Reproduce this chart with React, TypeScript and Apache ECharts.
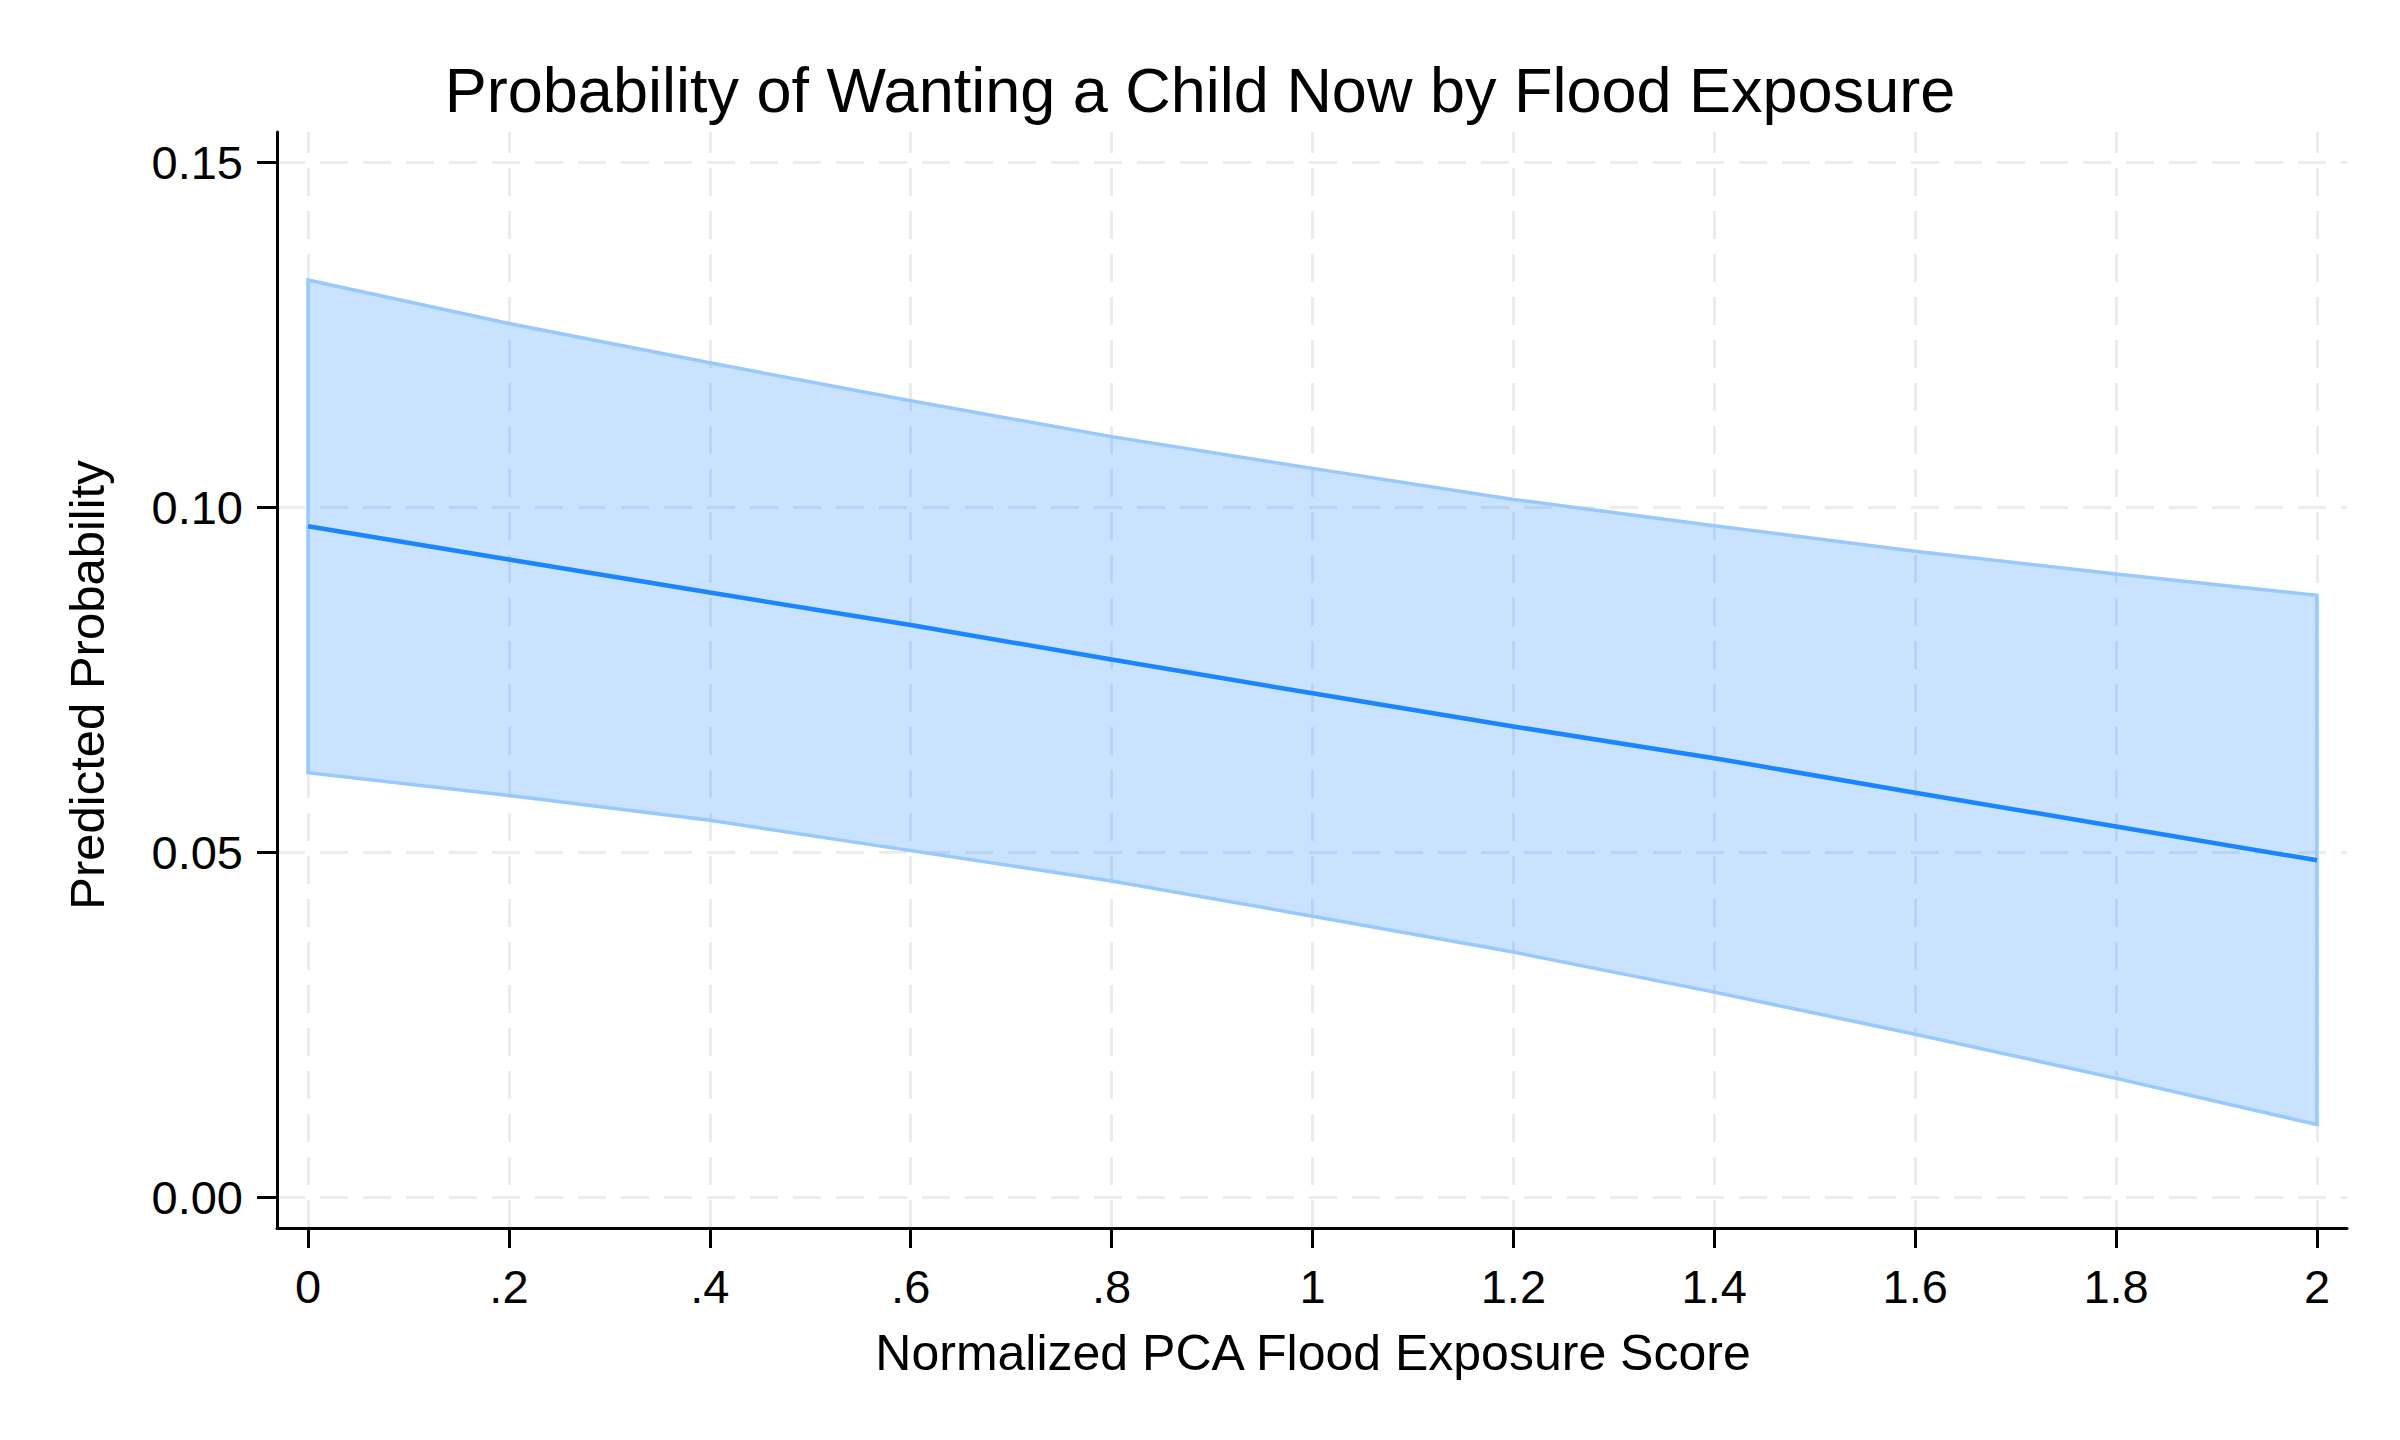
import React, { useEffect, useRef } from "react";
import * as echarts from "echarts";

// ---- data ----
const xValues = [0, 0.2, 0.4, 0.6, 0.8, 1.0, 1.2, 1.4, 1.6, 1.8, 2.0];
const predicted = [0.0972, 0.0924, 0.0876, 0.0829, 0.0779, 0.073, 0.0682, 0.0636, 0.0586, 0.0537, 0.0488];
const upperCI = [0.1329, 0.1266, 0.1209, 0.1154, 0.1102, 0.1056, 0.1011, 0.0973, 0.0936, 0.0903, 0.0872];
const lowerCI = [0.0615, 0.0582, 0.0546, 0.0502, 0.0458, 0.0407, 0.0355, 0.0297, 0.0236, 0.0172, 0.0105];
const xTicks = [0, 0.2, 0.4, 0.6, 0.8, 1.0, 1.2, 1.4, 1.6, 1.8, 2.0];
const yTicks = [0, 0.05, 0.1, 0.15];

const TITLE = "Probability of Wanting a Child Now by Flood Exposure";
const X_TITLE = "Normalized PCA Flood Exposure Score";
const Y_TITLE = "Predicted Probability";

const FONT = '"Liberation Sans", Arial, Helvetica, sans-serif';
const LINE_COLOR = "#1a85ff";
const BAND_FILL = "rgba(26,133,255,0.24)";
const BAND_EDGE = "#98c8fe";
const GRID_COLOR = "#ececec";

function fmtX(v: number): string {
  const s = String(Math.round(v * 10) / 10);
  return s.startsWith("0.") ? s.slice(1) : s;
}

export default function App() {
  const ref = useRef<HTMLDivElement>(null);

  useEffect(() => {
    if (!ref.current) return;
    const chart = echarts.init(ref.current, undefined, { renderer: "svg" });

    const bandData = xValues.map((x, i) => [x, lowerCI[i], upperCI[i]]);
    const lineData = xValues.map((x, i) => [x, predicted[i]]);

    const option: any = {
      animation: false,
      backgroundColor: "#ffffff",
      textStyle: { fontFamily: FONT },
      grid: { left: 277, right: 53, top: 132, bottom: 212, containLabel: false },
      xAxis: {
        type: "value",
        min: -0.0309,
        max: 2.0299,
        axisLine: { show: true, onZero: false, lineStyle: { color: "#000", width: 3 } },
        axisTick: {
          show: true,
          customValues: xTicks,
          length: 20,
          lineStyle: { color: "#000", width: 3 },
        },
        axisLabel: {
          show: true,
          customValues: xTicks,
          formatter: (v: number) => fmtX(v),
          fontSize: 47,
          fontFamily: FONT,
          color: "#000",
          margin: 35,
        },
        splitLine: { show: false },
      },
      yAxis: {
        type: "value",
        min: -0.00449,
        max: 0.15435,
        axisLine: { show: true, onZero: false, lineStyle: { color: "#000", width: 3 } },
        axisTick: {
          show: true,
          customValues: yTicks,
          length: 20,
          lineStyle: { color: "#000", width: 3 },
        },
        axisLabel: {
          show: true,
          customValues: yTicks,
          formatter: (v: number) => v.toFixed(2),
          fontSize: 47,
          fontFamily: FONT,
          color: "#000",
          margin: 34,
        },
        splitLine: { show: false },
      },
      graphic: [
        {
          type: "text",
          x: 1200,
          y: 90,
          style: {
            text: TITLE,
            fill: "#000",
            fontSize: 63,
            fontFamily: FONT,
            align: "center",
            verticalAlign: "middle",
          },
        },
        {
          type: "text",
          x: 1313,
          y: 1353,
          style: {
            text: X_TITLE,
            fill: "#000",
            fontSize: 50,
            fontFamily: FONT,
            align: "center",
            verticalAlign: "middle",
          },
        },
        {
          type: "text",
          x: 87,
          y: 685,
          rotation: Math.PI / 2,
          style: {
            text: Y_TITLE,
            fill: "#000",
            fontSize: 49,
            fontFamily: FONT,
            align: "center",
            verticalAlign: "middle",
          },
        },
      ],
      series: [
        {
          name: "grid",
          type: "line",
          z: 0,
          silent: true,
          data: lineData,
          showSymbol: false,
          lineStyle: { opacity: 0, width: 0 },
          markLine: {
            z: 0,
            silent: true,
            animation: false,
            symbol: ["none", "none"],
            label: { show: false },
            lineStyle: { color: GRID_COLOR, width: 3, type: [28, 15] },
            data: [
              ...yTicks.map((v) => ({ yAxis: v })),
              ...xTicks.map((v) => ({ xAxis: v })),
            ],
          },
        },
        {
          name: "95% CI",
          type: "custom",
          z: 2,
          silent: true,
          data: bandData,
          encode: { x: 0, y: [1, 2] },
          renderItem: (params: any, api: any) => {
            if (params.dataIndex !== 0) return null;
            const top = bandData.map((d) => api.coord([d[0], d[2]]));
            const bottom = bandData.map((d) => api.coord([d[0], d[1]])).reverse();
            return {
              type: "polygon",
              shape: { points: top.concat(bottom) },
              style: { fill: BAND_FILL, stroke: BAND_EDGE, lineWidth: 3.5 },
            };
          },
        },
        {
          name: "Predicted",
          type: "line",
          z: 3,
          data: lineData,
          showSymbol: false,
          symbol: "none",
          lineStyle: { color: LINE_COLOR, width: 4.5 },
        },
      ],
    };

    chart.setOption(option);
    return () => {
      chart.dispose();
    };
  }, []);

  return (
    <div
      ref={ref}
      style={{ position: "fixed", left: 0, top: 0, width: 2400, height: 1440, background: "#fff" }}
    />
  );
}
